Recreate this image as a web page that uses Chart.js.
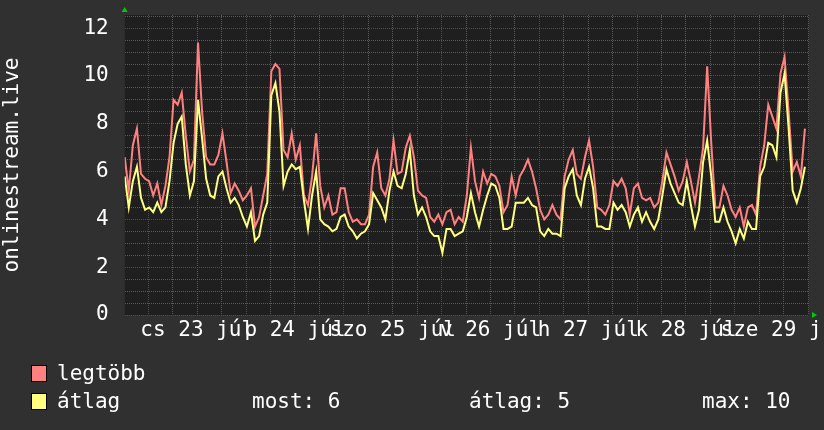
<!DOCTYPE html>
<html>
<head>
<meta charset="utf-8">
<script src="https://cdn.jsdelivr.net/npm/chart.js@4"></script>
<style>
    html, body { margin: 0; padding: 0; background: #303030; }
    #wrap { width: 824px; height: 430px; }
</style>
</head>
<body>
<div id="wrap"><canvas id="chartCanvas" width="824" height="430"></canvas></div>
<script>
// ============================================================
// DATA – hourly samples, 22 Jul 18:12 -> 29 Jul
// ============================================================

const startHour = 18.2;          // hours after 22 Jul 00:00
const dayLabels = ["cs 23 júl", "p 24 júl", "szo 25 júl", "v 26 júl", "h 27 júl", "k 28 júl", "sze 29 júl"];
const yTitle = "onlinestream.live";

const maxVals = [
    6.6, 5.2, 7.1, 7.8, 5.9, 5.7, 5.6, 5.0, 5.5, 4.6,
    5.4, 6.6, 9.0, 8.8, 9.3, 7.5, 6.0, 6.5, 11.4, 8.5,
    6.6, 6.3, 6.3, 6.7, 7.6, 6.4, 5.1, 5.5, 5.2, 4.8,
    5.0, 5.3, 3.7, 4.1, 5.0, 5.9, 10.2, 10.5, 10.3, 6.9,
    6.6, 7.6, 6.5, 7.1, 5.0, 4.6, 5.8, 7.6, 5.4, 4.5,
    5.0, 4.2, 4.3, 5.3, 5.3, 4.3, 3.9, 4.0, 3.8, 3.8,
    4.2, 6.2, 6.8, 5.3, 5.0, 5.7, 7.3, 5.9, 6.0, 7.0,
    7.5, 6.6, 5.2, 5.0, 4.9, 4.1, 3.9, 4.2, 3.8, 4.3,
    4.4, 3.8, 4.1, 3.9, 5.0, 7.0, 5.6, 4.9, 6.0, 5.5,
    5.9, 5.8, 5.4, 4.3, 4.6, 5.8, 5.0, 5.8, 6.1, 6.5,
    6.0, 5.3, 4.4, 4.0, 4.2, 4.6, 4.2, 4.0, 5.8, 6.5,
    6.9, 5.9, 5.7, 6.6, 7.3, 6.2, 4.5, 4.4, 4.2, 4.6,
    5.6, 5.4, 5.7, 5.3, 4.2, 5.3, 5.5, 4.9, 4.8, 4.9,
    4.5, 4.7, 5.6, 6.8, 6.3, 5.8, 5.2, 5.6, 6.4, 5.6,
    4.7, 5.8, 7.0, 10.4, 7.2, 4.5, 4.5, 5.4, 5.0, 4.4,
    4.1, 4.5, 3.7, 4.5, 4.6, 4.2, 6.2, 7.1, 8.8, 8.3,
    7.8, 10.1, 10.8, 8.5, 6.0, 6.4, 5.8, 7.8
];

const avgVals = [
    5.8, 4.5, 5.6, 6.2, 4.9, 4.4, 4.5, 4.3, 4.7, 4.3,
    4.5, 5.6, 7.2, 8.0, 8.3, 6.3, 5.0, 5.6, 9.0, 7.4,
    5.7, 5.0, 4.9, 5.8, 6.0, 5.3, 4.7, 4.9, 4.6, 4.1,
    3.7, 4.3, 3.1, 3.3, 4.2, 4.7, 9.2, 9.7, 8.5, 5.4,
    6.0, 6.3, 6.1, 6.2, 4.8, 3.6, 5.0, 6.0, 4.0, 3.8,
    3.7, 3.5, 3.6, 4.1, 4.2, 3.7, 3.5, 3.2, 3.4, 3.5,
    3.8, 5.1, 4.8, 4.5, 4.0, 5.2, 6.0, 5.4, 5.3, 5.9,
    6.9, 5.0, 4.2, 4.5, 4.1, 3.5, 3.3, 3.3, 2.6, 3.6,
    3.6, 3.3, 3.4, 3.5, 4.1, 5.1, 4.3, 3.7, 4.4, 5.0,
    5.5, 5.4, 4.9, 3.6, 3.6, 3.7, 4.7, 4.7, 4.7, 4.9,
    4.6, 4.5, 3.5, 3.3, 3.6, 3.4, 3.4, 3.3, 5.3, 5.8,
    6.1, 5.0, 4.6, 5.7, 6.2, 5.3, 3.7, 3.7, 3.6, 3.6,
    4.7, 4.4, 4.6, 4.3, 3.7, 4.2, 4.5, 3.9, 4.3, 3.9,
    3.6, 4.0, 5.0, 6.1, 5.5, 5.1, 4.7, 4.6, 5.6, 4.6,
    3.7, 4.4, 6.4, 7.3, 5.8, 3.9, 3.9, 4.5, 3.9, 3.5,
    3.0, 3.6, 3.2, 3.9, 3.6, 3.6, 5.8, 6.2, 7.2, 7.1,
    6.6, 9.3, 10.1, 7.8, 5.2, 4.7, 5.3, 6.2
];

const legendRows = [
    { label: "legtöbb", color: "#ff8080" },
    { label: "átlag", color: "#ffff80" }
];
const summary = [
    { text: "most: 6", x: 252 },
    { text: "átlag: 5", x: 469 },
    { text: "max: 10", x: 702 }
];

// ============================================================
// STYLE
// ============================================================

const FONT = "'DejaVu Sans Mono', monospace";
const OUTER_BG = "#303030";
const PLOT_BG = "#1f1f1f";
const GRID_MINOR = "#5a5a5a";
const GRID_MAJOR = "#7a3a3a";

Chart.defaults.font.family = FONT;
Chart.defaults.font.size = 21;
Chart.defaults.color = "#ffffff";

const xMin = startHour;
const xMax = startHour + 168;
const yMax = 12.55;

// grid every 6 h, red line on midnights, label on noon
const gridHours = [];
for (let h = Math.ceil(xMin / 6) * 6; h <= xMax; h += 6) gridHours.push(h);

// y grid every 0.5, label + red line every 2
const gridValues = [];
for (let v = 0; v <= yMax; v += 0.5) gridValues.push(v);

const toPoints = arr => arr.map((v, i) => ({ x: startHour + i, y: v }));

// ============================================================
// PLUGIN – backgrounds, RRD arrows, legend under the chart
// ============================================================

const rrdLook = {
    id: "rrdLook",
    beforeDraw(chart) {
        const { ctx, chartArea: a } = chart;
        ctx.save();
        ctx.fillStyle = OUTER_BG;
        ctx.fillRect(0, 0, chart.width, chart.height);
        ctx.fillStyle = PLOT_BG;
        ctx.fillRect(a.left, a.top, a.right - a.left, a.bottom - a.top);
        ctx.restore();
    },
    afterDraw(chart) {
        const { ctx, chartArea: a } = chart;
        ctx.save();

        // rrd cuts the last date label at the image edge
        ctx.fillStyle = OUTER_BG;
        ctx.fillRect(820, a.bottom + 4, chart.width - 820, 30);

        // green arrows
        ctx.fillStyle = "#00cc00";
        ctx.beginPath();
        ctx.moveTo(a.left - 3, a.top - 3);
        ctx.lineTo(a.left + 3, a.top - 3);
        ctx.lineTo(a.left, a.top - 8);
        ctx.fill();
        ctx.beginPath();
        ctx.moveTo(a.right + 3, a.bottom - 3);
        ctx.lineTo(a.right + 3, a.bottom + 3);
        ctx.lineTo(a.right + 8, a.bottom);
        ctx.fill();

        // legend
        ctx.font = "21px " + FONT;
        ctx.textBaseline = "alphabetic";
        legendRows.forEach((r, i) => {
            const y = 365.5 + i * 28;
            ctx.fillStyle = r.color;
            ctx.fillRect(31.5, y, 15, 16);
            ctx.strokeStyle = "#000000";
            ctx.lineWidth = 1;
            ctx.strokeRect(31.5, y, 15, 16);
            ctx.fillStyle = "#ffffff";
            ctx.fillText(r.label, 57, 380 + i * 28);
        });
        summary.forEach(s => ctx.fillText(s.text, s.x, 408));

        ctx.restore();
    }
};

// ============================================================
// CHART
// ============================================================

const ctx = document.getElementById("chartCanvas").getContext("2d");

new Chart(ctx, {
    type: "line",
    data: {
        datasets: [{
            label: legendRows[0].label,
            data: toPoints(maxVals),
            borderColor: legendRows[0].color,
            borderWidth: 2,
            pointRadius: 0,
            tension: 0,
            order: 2
        }, {
            label: legendRows[1].label,
            data: toPoints(avgVals),
            borderColor: legendRows[1].color,
            borderWidth: 2,
            pointRadius: 0,
            tension: 0,
            order: 1
        }]
    },
    options: {
        responsive: false,
        animation: false,
        events: [],
        layout: { padding: { left: 0, right: 15, top: 15, bottom: 84 } },
        plugins: {
            legend: { display: false },
            tooltip: { enabled: false }
        },
        scales: {
            x: {
                type: "linear",
                min: xMin,
                max: xMax,
                afterBuildTicks: s => { s.ticks = gridHours.map(v => ({ value: v })); },
                afterFit: s => { s.height = 31; s.paddingLeft = 0; s.paddingRight = 0; },
                border: { display: false, dash: [1, 1] },
                grid: {
                    drawTicks: false,
                    color: c => (c.tick && c.tick.value % 24 === 0) ? GRID_MAJOR : GRID_MINOR,
                    lineWidth: 1
                },
                ticks: {
                    autoSkip: false,
                    maxRotation: 0,
                    padding: 3,
                    color: "#ffffff",
                    callback: v => (v % 24 === 12) ? (dayLabels[Math.floor(v / 24) - 1] || "") : ""
                }
            },
            y: {
                min: 0,
                max: yMax,
                afterBuildTicks: s => { s.ticks = gridValues.map(v => ({ value: v })); },
                afterFit: s => { s.width = 124.7; s.paddingTop = 0; s.paddingBottom = 0; },
                border: { display: false, dash: [1, 1] },
                grid: {
                    drawTicks: false,
                    color: c => (c.tick && c.tick.value % 2 === 0) ? GRID_MAJOR : GRID_MINOR,
                    lineWidth: 1
                },
                ticks: {
                    autoSkip: false,
                    padding: 16,
                    color: "#ffffff",
                    callback: v => (v % 2 === 0) ? String(v) : ""
                },
                title: {
                    display: true,
                    text: yTitle,
                    color: "#ffffff",
                    padding: 0
                }
            }
        }
    },
    plugins: [rrdLook]
});
</script>
</body>
</html>
